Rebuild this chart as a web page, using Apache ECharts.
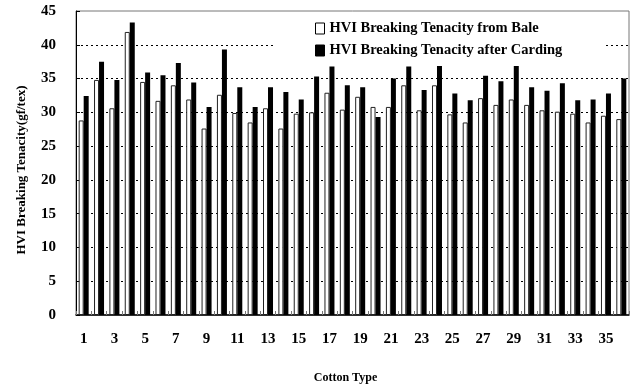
<!DOCTYPE html>
<html>
<head>
<meta charset="utf-8">
<script src="https://cdn.jsdelivr.net/npm/echarts@6/dist/echarts.min.js"></script>
<style>
  html, body { margin: 0; padding: 0; background: #fff; }
  #chart { width: 633px; height: 389px; }
</style>
</head>
<body>
<div id="chart"></div>
<script>
// Cotton types 1..36
var cottonTypes = [];
for (var i = 1; i <= 36; i++) cottonTypes.push(String(i));

// HVI breaking tenacity (gf/tex), measured from the bale
var fromBale = [28.8, 34.8, 30.6, 41.9, 34.5, 31.7, 34.0, 31.9, 27.6, 32.6, 29.9, 28.5,
                30.6, 27.6, 29.8, 30.0, 32.9, 30.4, 32.3, 30.8, 30.8, 34.0, 30.3, 34.0,
                29.7, 28.5, 32.1, 31.1, 31.9, 31.1, 30.3, 30.1, 29.8, 28.5, 29.5, 29.0];

// HVI breaking tenacity (gf/tex), measured after carding
var afterCarding = [32.4, 37.5, 34.8, 43.3, 35.9, 35.5, 37.3, 34.4, 30.8, 39.3, 33.7, 30.8,
                    33.7, 33.0, 31.9, 35.3, 36.8, 34.0, 33.7, 29.3, 35.0, 36.8, 33.3, 37.1,
                    32.8, 31.8, 35.4, 34.6, 37.7, 33.7, 33.2, 34.3, 31.8, 31.9, 32.8, 35.0];

var seriesNames = ['HVI Breaking Tenacity from Bale', 'HVI Breaking Tenacity after Carding'];

var serif = '"Liberation Serif", "Times New Roman", serif';

var chart = echarts.init(document.getElementById('chart'));
chart.setOption({
  animation: false,
  backgroundColor: '#fff',
  textStyle: { fontFamily: serif },
  grid: {
    left: 76, right: 4, top: 11, bottom: 71,
    show: true, borderColor: '#777', borderWidth: 1, backgroundColor: 'transparent'
  },
  legend: {
    orient: 'vertical',
    left: 273, top: 13,
    padding: [8, 42, 8, 42],
    backgroundColor: '#fff',
    itemWidth: 9, itemHeight: 11, itemGap: 7,
    icon: 'rect',
    textStyle: { fontFamily: serif, fontWeight: 'bold', fontSize: 14.5, color: '#000', lineHeight: 15 },
    data: [
      { name: seriesNames[0], itemStyle: { color: '#fff', borderColor: '#000', borderWidth: 1 } },
      { name: seriesNames[1], itemStyle: { color: '#000', borderColor: '#000', borderWidth: 1 } }
    ]
  },
  xAxis: {
    type: 'category',
    data: cottonTypes,
    name: 'Cotton Type',
    nameLocation: 'middle',
    nameGap: 57,
    nameTextStyle: { fontFamily: serif, fontWeight: 'bold', fontSize: 12, color: '#000', padding: [0, 14, 0, 0] },
    axisLine: { lineStyle: { color: '#000', width: 1.5 } },
    axisTick: { show: true, inside: true, length: 4, interval: 0, lineStyle: { color: '#777' } },
    axisLabel: { interval: 1, margin: 17, fontFamily: serif, fontWeight: 'bold', fontSize: 15, color: '#000' },
    splitLine: { show: false }
  },
  yAxis: {
    type: 'value',
    min: 0, max: 45, interval: 5,
    name: 'HVI Breaking Tenacity(gf/tex)',
    nameLocation: 'middle',
    nameGap: 48,
    nameTextStyle: { fontFamily: serif, fontWeight: 'bold', fontSize: 13, color: '#000', padding: [0, 14, 0, 0] },
    axisLine: { show: true, lineStyle: { color: '#000', width: 1 } },
    axisTick: { show: true, inside: true, length: 4, lineStyle: { color: '#000' } },
    axisLabel: { margin: 20, fontFamily: serif, fontWeight: 'bold', fontSize: 15, color: '#000' },
    splitLine: { show: true, showMinLine: false, showMaxLine: false, lineStyle: { color: '#000', width: 1, type: [2, 3] } }
  },
  series: [
    {
      name: seriesNames[0],
      type: 'bar',
      data: fromBale,
      barWidth: 5,
      barGap: '0%',
      itemStyle: { color: '#fff', borderColor: '#222', borderWidth: 1 }
    },
    {
      name: seriesNames[1],
      type: 'bar',
      data: afterCarding,
      barWidth: 5,
      itemStyle: { color: '#000', borderColor: '#000', borderWidth: 0 }
    }
  ]
});
</script>
</body>
</html>
